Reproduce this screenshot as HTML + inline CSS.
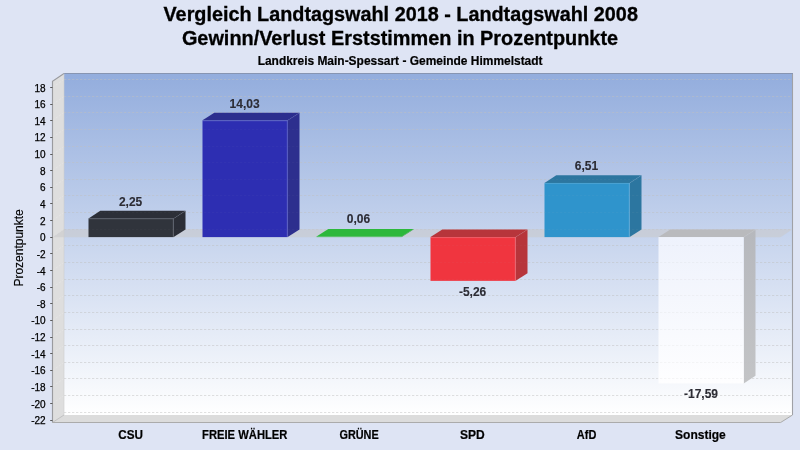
<!DOCTYPE html>
<html lang="de"><head><meta charset="utf-8"><title>Vergleich Landtagswahl 2018 - Landtagswahl 2008</title>
<style>
html,body{margin:0;padding:0;background:#DEE4F4;}
body{width:800px;height:450px;overflow:hidden;font-family:"Liberation Sans",sans-serif;}
svg{display:block}
text{font-family:"Liberation Sans",sans-serif;}
.t1{font-size:20px;font-weight:bold;fill:#000;stroke:#000;stroke-width:0.3px;text-anchor:middle}
.t2{font-size:12px;font-weight:bold;fill:#000;stroke:#000;stroke-width:0.2px;text-anchor:middle}
.yl{font-size:10px;fill:#000;stroke:#000;stroke-width:0.25px;text-anchor:end}
.xl{font-size:12px;font-weight:bold;fill:#000;stroke:#000;stroke-width:0.2px;text-anchor:middle}
.vl{font-size:12px;font-weight:bold;fill:#2C2C34;stroke:#2C2C34;stroke-width:0.12px;text-anchor:middle}
.ya{font-size:12px;fill:#000;stroke:#000;stroke-width:0.15px;text-anchor:middle}
</style></head><body>
<svg width="800" height="450" viewBox="0 0 800 450">
<defs>
<linearGradient id="bg" x1="0" y1="0" x2="0" y2="1"><stop offset="0" stop-color="#93ADDD"/><stop offset="1" stop-color="#FFFFFF"/></linearGradient>
<linearGradient id="gw" x1="0" y1="0" x2="0" y2="1"><stop offset="0" stop-color="#EEF2FC"/><stop offset="1" stop-color="#FEFEFF"/></linearGradient>
<linearGradient id="gs" x1="0" y1="0" x2="0" y2="1"><stop offset="0" stop-color="#B6B8BD"/><stop offset="1" stop-color="#C3C4C6"/></linearGradient>
</defs>
<rect x="0" y="0" width="800" height="450" fill="#DEE4F4"/>

<text class="t1" x="400.7" y="20.6" textLength="474.4" lengthAdjust="spacingAndGlyphs">Vergleich Landtagswahl 2018 - Landtagswahl 2008</text>
<text class="t1" x="400" y="45.3" textLength="436.2" lengthAdjust="spacingAndGlyphs">Gewinn/Verlust Erststimmen in Prozentpunkte</text>
<text class="t2" x="400.1" y="65" textLength="284.9" lengthAdjust="spacingAndGlyphs">Landkreis Main-Spessart - Gemeinde Himmelstadt</text>
<rect x="64.0" y="73.5" width="728.5" height="341.5" fill="url(#bg)"/>
<polygon points="52.5,81.4 64.0,73.5 64.0,415.0 52.5,422.5" fill="#DEDEDE"/>
<polygon points="52.5,422.5 64.0,415.0 792.5,415.0 780.6,422.5" fill="#DCDCDC"/>
<line x1="64.0" y1="412.50" x2="792.5" y2="412.50" stroke="#C0C0C0" stroke-width="1" stroke-dasharray="2.3,1.7" opacity="0.48"/>
<line x1="64.0" y1="395.50" x2="792.5" y2="395.50" stroke="#C0C0C0" stroke-width="1" stroke-dasharray="2.3,1.7" opacity="0.48"/>
<line x1="52.5" y1="403.50" x2="64.0" y2="395.50" stroke="#E6E6E6" stroke-width="1" stroke-dasharray="2.3,1.7" opacity="0.8"/>
<line x1="64.0" y1="378.50" x2="792.5" y2="378.50" stroke="#C0C0C0" stroke-width="1" stroke-dasharray="2.3,1.7" opacity="0.48"/>
<line x1="52.5" y1="386.50" x2="64.0" y2="378.50" stroke="#E6E6E6" stroke-width="1" stroke-dasharray="2.3,1.7" opacity="0.8"/>
<line x1="64.0" y1="362.50" x2="792.5" y2="362.50" stroke="#C0C0C0" stroke-width="1" stroke-dasharray="2.3,1.7" opacity="0.48"/>
<line x1="52.5" y1="370.50" x2="64.0" y2="362.50" stroke="#E6E6E6" stroke-width="1" stroke-dasharray="2.3,1.7" opacity="0.8"/>
<line x1="64.0" y1="345.50" x2="792.5" y2="345.50" stroke="#C0C0C0" stroke-width="1" stroke-dasharray="2.3,1.7" opacity="0.48"/>
<line x1="52.5" y1="353.50" x2="64.0" y2="345.50" stroke="#E6E6E6" stroke-width="1" stroke-dasharray="2.3,1.7" opacity="0.8"/>
<line x1="64.0" y1="329.50" x2="792.5" y2="329.50" stroke="#C0C0C0" stroke-width="1" stroke-dasharray="2.3,1.7" opacity="0.48"/>
<line x1="52.5" y1="337.50" x2="64.0" y2="329.50" stroke="#E6E6E6" stroke-width="1" stroke-dasharray="2.3,1.7" opacity="0.8"/>
<line x1="64.0" y1="312.50" x2="792.5" y2="312.50" stroke="#C0C0C0" stroke-width="1" stroke-dasharray="2.3,1.7" opacity="0.48"/>
<line x1="52.5" y1="320.50" x2="64.0" y2="312.50" stroke="#E6E6E6" stroke-width="1" stroke-dasharray="2.3,1.7" opacity="0.8"/>
<line x1="64.0" y1="295.50" x2="792.5" y2="295.50" stroke="#C0C0C0" stroke-width="1" stroke-dasharray="2.3,1.7" opacity="0.48"/>
<line x1="52.5" y1="303.50" x2="64.0" y2="295.50" stroke="#E6E6E6" stroke-width="1" stroke-dasharray="2.3,1.7" opacity="0.8"/>
<line x1="64.0" y1="279.50" x2="792.5" y2="279.50" stroke="#C0C0C0" stroke-width="1" stroke-dasharray="2.3,1.7" opacity="0.48"/>
<line x1="52.5" y1="287.50" x2="64.0" y2="279.50" stroke="#E6E6E6" stroke-width="1" stroke-dasharray="2.3,1.7" opacity="0.8"/>
<line x1="64.0" y1="262.50" x2="792.5" y2="262.50" stroke="#C0C0C0" stroke-width="1" stroke-dasharray="2.3,1.7" opacity="0.48"/>
<line x1="52.5" y1="270.50" x2="64.0" y2="262.50" stroke="#E6E6E6" stroke-width="1" stroke-dasharray="2.3,1.7" opacity="0.8"/>
<line x1="64.0" y1="245.50" x2="792.5" y2="245.50" stroke="#C0C0C0" stroke-width="1" stroke-dasharray="2.3,1.7" opacity="0.48"/>
<line x1="52.5" y1="253.50" x2="64.0" y2="245.50" stroke="#E6E6E6" stroke-width="1" stroke-dasharray="2.3,1.7" opacity="0.8"/>
<line x1="64.0" y1="229.50" x2="792.5" y2="229.50" stroke="#C0C0C0" stroke-width="1" stroke-dasharray="2.3,1.7" opacity="0.48"/>
<line x1="52.5" y1="237.50" x2="64.0" y2="229.50" stroke="#E6E6E6" stroke-width="1" stroke-dasharray="2.3,1.7" opacity="0.8"/>
<line x1="64.0" y1="212.50" x2="792.5" y2="212.50" stroke="#C0C0C0" stroke-width="1" stroke-dasharray="2.3,1.7" opacity="0.48"/>
<line x1="52.5" y1="220.50" x2="64.0" y2="212.50" stroke="#E6E6E6" stroke-width="1" stroke-dasharray="2.3,1.7" opacity="0.8"/>
<line x1="64.0" y1="195.50" x2="792.5" y2="195.50" stroke="#C0C0C0" stroke-width="1" stroke-dasharray="2.3,1.7" opacity="0.48"/>
<line x1="52.5" y1="203.50" x2="64.0" y2="195.50" stroke="#E6E6E6" stroke-width="1" stroke-dasharray="2.3,1.7" opacity="0.8"/>
<line x1="64.0" y1="179.50" x2="792.5" y2="179.50" stroke="#C0C0C0" stroke-width="1" stroke-dasharray="2.3,1.7" opacity="0.48"/>
<line x1="52.5" y1="187.50" x2="64.0" y2="179.50" stroke="#E6E6E6" stroke-width="1" stroke-dasharray="2.3,1.7" opacity="0.8"/>
<line x1="64.0" y1="162.50" x2="792.5" y2="162.50" stroke="#C0C0C0" stroke-width="1" stroke-dasharray="2.3,1.7" opacity="0.48"/>
<line x1="52.5" y1="170.50" x2="64.0" y2="162.50" stroke="#E6E6E6" stroke-width="1" stroke-dasharray="2.3,1.7" opacity="0.8"/>
<line x1="64.0" y1="146.50" x2="792.5" y2="146.50" stroke="#C0C0C0" stroke-width="1" stroke-dasharray="2.3,1.7" opacity="0.48"/>
<line x1="52.5" y1="154.50" x2="64.0" y2="146.50" stroke="#E6E6E6" stroke-width="1" stroke-dasharray="2.3,1.7" opacity="0.8"/>
<line x1="64.0" y1="129.50" x2="792.5" y2="129.50" stroke="#C0C0C0" stroke-width="1" stroke-dasharray="2.3,1.7" opacity="0.48"/>
<line x1="52.5" y1="137.50" x2="64.0" y2="129.50" stroke="#E6E6E6" stroke-width="1" stroke-dasharray="2.3,1.7" opacity="0.8"/>
<line x1="64.0" y1="112.50" x2="792.5" y2="112.50" stroke="#C0C0C0" stroke-width="1" stroke-dasharray="2.3,1.7" opacity="0.48"/>
<line x1="52.5" y1="120.50" x2="64.0" y2="112.50" stroke="#E6E6E6" stroke-width="1" stroke-dasharray="2.3,1.7" opacity="0.8"/>
<line x1="64.0" y1="96.50" x2="792.5" y2="96.50" stroke="#C0C0C0" stroke-width="1" stroke-dasharray="2.3,1.7" opacity="0.48"/>
<line x1="52.5" y1="104.50" x2="64.0" y2="96.50" stroke="#E6E6E6" stroke-width="1" stroke-dasharray="2.3,1.7" opacity="0.8"/>
<line x1="64.0" y1="79.50" x2="792.5" y2="79.50" stroke="#C0C0C0" stroke-width="1" stroke-dasharray="2.3,1.7" opacity="0.48"/>
<line x1="52.5" y1="87.50" x2="64.0" y2="79.50" stroke="#E6E6E6" stroke-width="1" stroke-dasharray="2.3,1.7" opacity="0.8"/>
<line x1="52.5" y1="422.5" x2="64.0" y2="415.0" stroke="#BDBDBD" stroke-width="0.9"/>
<polyline points="52.5,422.5 52.5,81.4 64.0,73.5" fill="none" stroke="#9A9B9F" stroke-width="1.15"/>
<line x1="792.5" y1="73.5" x2="792.5" y2="415.0" stroke="#A0A1A6" stroke-width="1.1"/>
<line x1="63.7" y1="73.5" x2="793.0" y2="73.5" stroke="#8795B2" stroke-width="1.1"/>
<polyline points="52.5,422.5 780.6,422.5 792.5,415.0" fill="none" stroke="#ABABAB" stroke-width="1"/>
<line x1="64.0" y1="73.5" x2="64.0" y2="415.0" stroke="#CFCFCF" stroke-width="0.6"/>
<polygon points="52.5,237.29999999999998 64.0,229.3 792.5,229.3 780.6,237.29999999999998" fill="#CACACC" fill-opacity="0.6"/>
<line x1="50.2" y1="420.50" x2="52.5" y2="420.50" stroke="#5A5A5A" stroke-width="1"/>
<text class="yl" x="45.6" y="424">-22</text>
<line x1="50.2" y1="403.50" x2="52.5" y2="403.50" stroke="#5A5A5A" stroke-width="1"/>
<text class="yl" x="45.6" y="408">-20</text>
<line x1="50.2" y1="386.50" x2="52.5" y2="386.50" stroke="#5A5A5A" stroke-width="1"/>
<text class="yl" x="45.6" y="391">-18</text>
<line x1="50.2" y1="370.50" x2="52.5" y2="370.50" stroke="#5A5A5A" stroke-width="1"/>
<text class="yl" x="45.6" y="374">-16</text>
<line x1="50.2" y1="353.50" x2="52.5" y2="353.50" stroke="#5A5A5A" stroke-width="1"/>
<text class="yl" x="45.6" y="358">-14</text>
<line x1="50.2" y1="337.50" x2="52.5" y2="337.50" stroke="#5A5A5A" stroke-width="1"/>
<text class="yl" x="45.6" y="341">-12</text>
<line x1="50.2" y1="320.50" x2="52.5" y2="320.50" stroke="#5A5A5A" stroke-width="1"/>
<text class="yl" x="45.6" y="324">-10</text>
<line x1="50.2" y1="303.50" x2="52.5" y2="303.50" stroke="#5A5A5A" stroke-width="1"/>
<text class="yl" x="45.6" y="308">-8</text>
<line x1="50.2" y1="287.50" x2="52.5" y2="287.50" stroke="#5A5A5A" stroke-width="1"/>
<text class="yl" x="45.6" y="291">-6</text>
<line x1="50.2" y1="270.50" x2="52.5" y2="270.50" stroke="#5A5A5A" stroke-width="1"/>
<text class="yl" x="45.6" y="275">-4</text>
<line x1="50.2" y1="253.50" x2="52.5" y2="253.50" stroke="#5A5A5A" stroke-width="1"/>
<text class="yl" x="45.6" y="258">-2</text>
<line x1="50.2" y1="237.50" x2="52.5" y2="237.50" stroke="#5A5A5A" stroke-width="1"/>
<text class="yl" x="45.6" y="241">0</text>
<line x1="50.2" y1="220.50" x2="52.5" y2="220.50" stroke="#5A5A5A" stroke-width="1"/>
<text class="yl" x="45.6" y="225">2</text>
<line x1="50.2" y1="203.50" x2="52.5" y2="203.50" stroke="#5A5A5A" stroke-width="1"/>
<text class="yl" x="45.6" y="208">4</text>
<line x1="50.2" y1="187.50" x2="52.5" y2="187.50" stroke="#5A5A5A" stroke-width="1"/>
<text class="yl" x="45.6" y="191">6</text>
<line x1="50.2" y1="170.50" x2="52.5" y2="170.50" stroke="#5A5A5A" stroke-width="1"/>
<text class="yl" x="45.6" y="175">8</text>
<line x1="50.2" y1="154.50" x2="52.5" y2="154.50" stroke="#5A5A5A" stroke-width="1"/>
<text class="yl" x="45.6" y="158">10</text>
<line x1="50.2" y1="137.50" x2="52.5" y2="137.50" stroke="#5A5A5A" stroke-width="1"/>
<text class="yl" x="45.6" y="141">12</text>
<line x1="50.2" y1="120.50" x2="52.5" y2="120.50" stroke="#5A5A5A" stroke-width="1"/>
<text class="yl" x="45.6" y="125">14</text>
<line x1="50.2" y1="104.50" x2="52.5" y2="104.50" stroke="#5A5A5A" stroke-width="1"/>
<text class="yl" x="45.6" y="108">16</text>
<line x1="50.2" y1="87.50" x2="52.5" y2="87.50" stroke="#5A5A5A" stroke-width="1"/>
<text class="yl" x="45.6" y="92">18</text>
<text class="ya" transform="translate(22.6,247.9) rotate(-90)">Prozentpunkte</text>
<polygon points="173.70,218.38 185.50,210.78 185.50,229.50 173.70,237.10" fill="#2B2E37"/>
<polygon points="88.50,218.38 100.30,210.78 185.50,210.78 173.70,218.38" fill="#2C2F38"/>
<rect x="88.50" y="218.38" width="85.20" height="18.72" fill="#30343C"/>
<polyline points="88.50,218.88 173.20,218.88 173.20,237.10" fill="none" stroke="#FFFFFF" stroke-opacity="0.13" stroke-width="1"/>
<line x1="173.20" y1="218.88" x2="185.00" y2="211.28" stroke="#FFFFFF" stroke-opacity="0.07" stroke-width="1"/>
<polygon points="287.70,120.37 299.50,112.77 299.50,229.50 287.70,237.10" fill="#2D2F8E"/>
<polygon points="202.50,120.37 214.30,112.77 299.50,112.77 287.70,120.37" fill="#2C2E8E"/>
<rect x="202.50" y="120.37" width="85.20" height="116.73" fill="#2D2EB2"/>
<polyline points="202.50,120.87 287.20,120.87 287.20,237.10" fill="none" stroke="#FFFFFF" stroke-opacity="0.13" stroke-width="1"/>
<line x1="287.20" y1="120.87" x2="299.00" y2="113.27" stroke="#FFFFFF" stroke-opacity="0.07" stroke-width="1"/>
<polygon points="401.70,236.60 413.50,229.00 413.50,229.50 401.70,237.10" fill="#259A32"/>
<polygon points="316.50,236.60 328.30,229.00 413.50,229.00 401.70,236.60" fill="#2DB83C"/>
<rect x="316.50" y="236.60" width="85.20" height="0.50" fill="#2DB83C"/>
<polygon points="515.70,237.10 527.50,229.50 527.50,273.26 515.70,280.86" fill="#B7353B"/>
<polygon points="430.50,237.10 442.30,229.50 527.50,229.50 515.70,237.10" fill="#B7353B"/>
<rect x="430.50" y="237.10" width="85.20" height="43.76" fill="#F0353F"/>
<polyline points="430.50,237.60 515.20,237.60 515.20,280.86" fill="none" stroke="#FFFFFF" stroke-opacity="0.13" stroke-width="1"/>
<line x1="515.20" y1="237.60" x2="527.00" y2="230.00" stroke="#FFFFFF" stroke-opacity="0.07" stroke-width="1"/>
<polygon points="629.70,182.94 641.50,175.34 641.50,229.50 629.70,237.10" fill="#2C76A0"/>
<polygon points="544.50,182.94 556.30,175.34 641.50,175.34 629.70,182.94" fill="#2C76A0"/>
<rect x="544.50" y="182.94" width="85.20" height="54.16" fill="#2F94CC"/>
<polyline points="544.50,183.44 629.20,183.44 629.20,237.10" fill="none" stroke="#FFFFFF" stroke-opacity="0.13" stroke-width="1"/>
<line x1="629.20" y1="183.44" x2="641.00" y2="175.84" stroke="#FFFFFF" stroke-opacity="0.07" stroke-width="1"/>
<polygon points="743.70,237.10 755.50,229.50 755.50,375.85 743.70,383.45" fill="url(#gs)"/>
<polygon points="658.50,237.10 670.30,229.50 755.50,229.50 743.70,237.10" fill="#B9BABD"/>
<rect x="658.50" y="237.10" width="85.20" height="146.35" fill="url(#gw)"/>
<polyline points="658.50,237.60 743.20,237.60 743.20,383.45" fill="none" stroke="#FFFFFF" stroke-opacity="0.13" stroke-width="1"/>
<line x1="743.20" y1="237.60" x2="755.00" y2="230.00" stroke="#FFFFFF" stroke-opacity="0.07" stroke-width="1"/>
<line x1="88.50" y1="229.50" x2="185.50" y2="229.50" stroke="#C0C0C0" stroke-width="1" stroke-dasharray="2.3,1.7" stroke-dashoffset="0.50" opacity="0.03"/>
<line x1="97.63" y1="212.50" x2="185.50" y2="212.50" stroke="#C0C0C0" stroke-width="1" stroke-dasharray="2.3,1.7" stroke-dashoffset="1.63" opacity="0.03"/>
<line x1="202.50" y1="229.50" x2="299.50" y2="229.50" stroke="#C0C0C0" stroke-width="1" stroke-dasharray="2.3,1.7" stroke-dashoffset="2.50" opacity="0.03"/>
<line x1="202.50" y1="212.50" x2="299.50" y2="212.50" stroke="#C0C0C0" stroke-width="1" stroke-dasharray="2.3,1.7" stroke-dashoffset="2.50" opacity="0.03"/>
<line x1="202.50" y1="195.50" x2="299.50" y2="195.50" stroke="#C0C0C0" stroke-width="1" stroke-dasharray="2.3,1.7" stroke-dashoffset="2.50" opacity="0.03"/>
<line x1="202.50" y1="179.50" x2="299.50" y2="179.50" stroke="#C0C0C0" stroke-width="1" stroke-dasharray="2.3,1.7" stroke-dashoffset="2.50" opacity="0.03"/>
<line x1="202.50" y1="162.50" x2="299.50" y2="162.50" stroke="#C0C0C0" stroke-width="1" stroke-dasharray="2.3,1.7" stroke-dashoffset="2.50" opacity="0.03"/>
<line x1="202.50" y1="146.50" x2="299.50" y2="146.50" stroke="#C0C0C0" stroke-width="1" stroke-dasharray="2.3,1.7" stroke-dashoffset="2.50" opacity="0.03"/>
<line x1="202.50" y1="129.50" x2="299.50" y2="129.50" stroke="#C0C0C0" stroke-width="1" stroke-dasharray="2.3,1.7" stroke-dashoffset="2.50" opacity="0.03"/>
<line x1="430.50" y1="279.50" x2="517.82" y2="279.50" stroke="#C0C0C0" stroke-width="1" stroke-dasharray="2.3,1.7" stroke-dashoffset="2.50" opacity="0.04"/>
<line x1="430.50" y1="262.50" x2="527.50" y2="262.50" stroke="#C0C0C0" stroke-width="1" stroke-dasharray="2.3,1.7" stroke-dashoffset="2.50" opacity="0.04"/>
<line x1="430.50" y1="245.50" x2="527.50" y2="245.50" stroke="#C0C0C0" stroke-width="1" stroke-dasharray="2.3,1.7" stroke-dashoffset="2.50" opacity="0.04"/>
<line x1="544.50" y1="229.50" x2="641.50" y2="229.50" stroke="#C0C0C0" stroke-width="1" stroke-dasharray="2.3,1.7" stroke-dashoffset="0.50" opacity="0.05"/>
<line x1="544.50" y1="212.50" x2="641.50" y2="212.50" stroke="#C0C0C0" stroke-width="1" stroke-dasharray="2.3,1.7" stroke-dashoffset="0.50" opacity="0.05"/>
<line x1="544.50" y1="195.50" x2="641.50" y2="195.50" stroke="#C0C0C0" stroke-width="1" stroke-dasharray="2.3,1.7" stroke-dashoffset="0.50" opacity="0.05"/>
<line x1="549.84" y1="179.50" x2="641.50" y2="179.50" stroke="#C0C0C0" stroke-width="1" stroke-dasharray="2.3,1.7" stroke-dashoffset="1.84" opacity="0.05"/>
<line x1="658.50" y1="378.50" x2="751.38" y2="378.50" stroke="#C0C0C0" stroke-width="1" stroke-dasharray="2.3,1.7" stroke-dashoffset="2.50" opacity="0.13"/>
<line x1="658.50" y1="362.50" x2="755.50" y2="362.50" stroke="#C0C0C0" stroke-width="1" stroke-dasharray="2.3,1.7" stroke-dashoffset="2.50" opacity="0.13"/>
<line x1="658.50" y1="345.50" x2="755.50" y2="345.50" stroke="#C0C0C0" stroke-width="1" stroke-dasharray="2.3,1.7" stroke-dashoffset="2.50" opacity="0.13"/>
<line x1="658.50" y1="329.50" x2="755.50" y2="329.50" stroke="#C0C0C0" stroke-width="1" stroke-dasharray="2.3,1.7" stroke-dashoffset="2.50" opacity="0.13"/>
<line x1="658.50" y1="312.50" x2="755.50" y2="312.50" stroke="#C0C0C0" stroke-width="1" stroke-dasharray="2.3,1.7" stroke-dashoffset="2.50" opacity="0.13"/>
<line x1="658.50" y1="295.50" x2="755.50" y2="295.50" stroke="#C0C0C0" stroke-width="1" stroke-dasharray="2.3,1.7" stroke-dashoffset="2.50" opacity="0.13"/>
<line x1="658.50" y1="279.50" x2="755.50" y2="279.50" stroke="#C0C0C0" stroke-width="1" stroke-dasharray="2.3,1.7" stroke-dashoffset="2.50" opacity="0.13"/>
<line x1="658.50" y1="262.50" x2="755.50" y2="262.50" stroke="#C0C0C0" stroke-width="1" stroke-dasharray="2.3,1.7" stroke-dashoffset="2.50" opacity="0.13"/>
<line x1="658.50" y1="245.50" x2="755.50" y2="245.50" stroke="#C0C0C0" stroke-width="1" stroke-dasharray="2.3,1.7" stroke-dashoffset="2.50" opacity="0.13"/>
<text class="vl" x="130.60" y="205.80">2,25</text>
<text class="xl" x="130.60" y="439.2" textLength="24.7" lengthAdjust="spacingAndGlyphs">CSU</text>
<text class="vl" x="244.60" y="107.60">14,03</text>
<text class="xl" x="244.75" y="439.2" textLength="85.3" lengthAdjust="spacingAndGlyphs">FREIE WÄHLER</text>
<text class="vl" x="358.50" y="223.40">0,06</text>
<text class="xl" x="359.10" y="439.2" textLength="39.3" lengthAdjust="spacingAndGlyphs">GRÜNE</text>
<text class="vl" x="472.60" y="296.30">-5,26</text>
<text class="xl" x="472.40" y="439.2">SPD</text>
<text class="vl" x="586.50" y="170.10">6,51</text>
<text class="xl" x="586.60" y="439.2" textLength="19.5" lengthAdjust="spacingAndGlyphs">AfD</text>
<text class="vl" x="701.00" y="398.20">-17,59</text>
<text class="xl" x="700.40" y="439.2">Sonstige</text>
</svg></body></html>
